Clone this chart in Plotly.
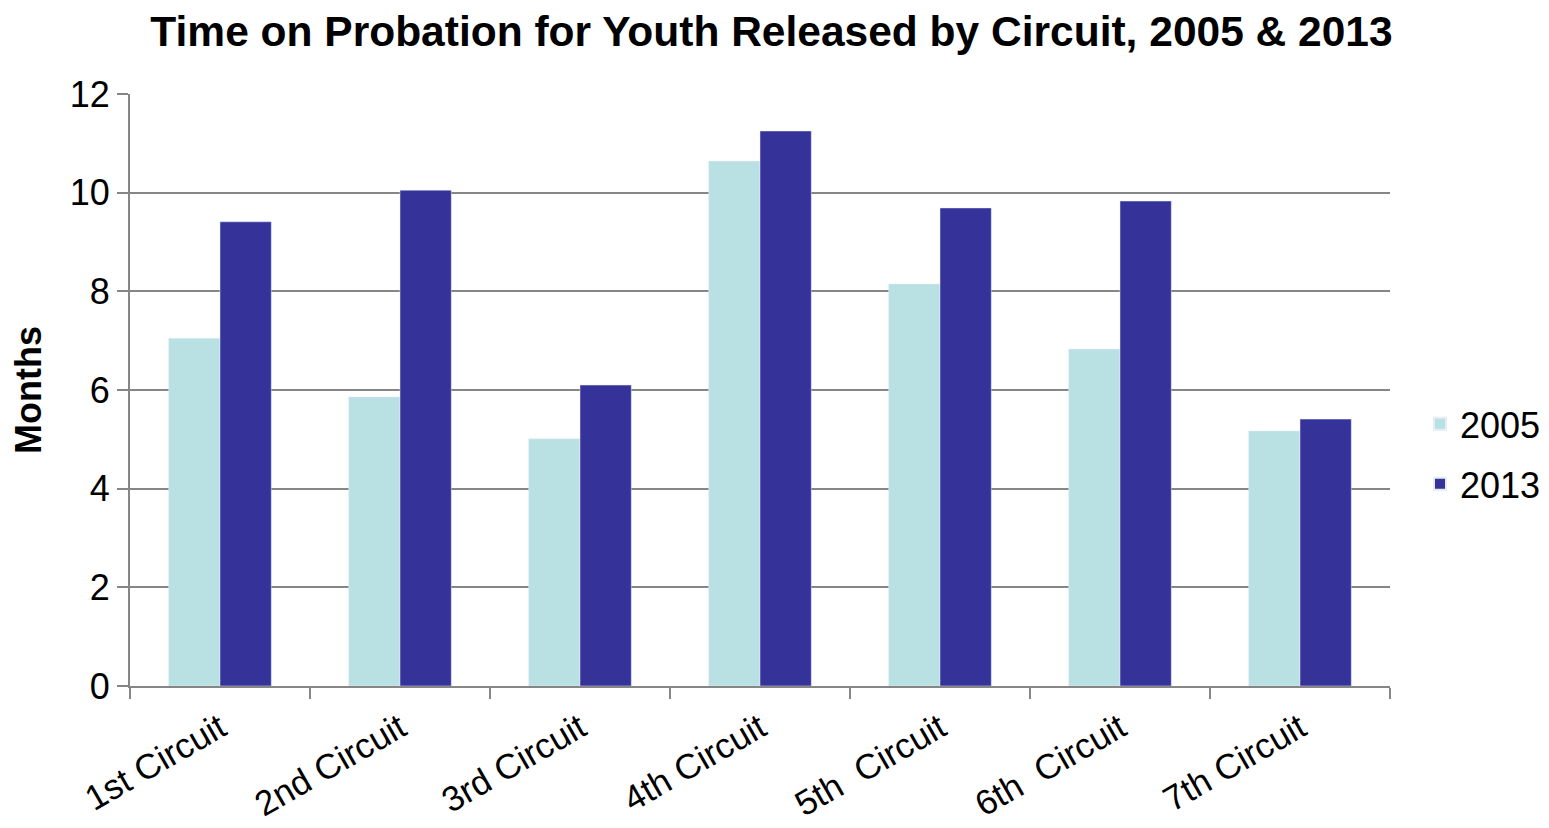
import plotly.graph_objects as go

categories = ["1st Circuit", "2nd Circuit", "3rd Circuit", "4th Circuit", "5th  Circuit", "6th  Circuit", "7th Circuit"]
values_2005 = [7.05, 5.86, 5.01, 10.64, 8.15, 6.83, 5.17]
values_2013 = [9.41, 10.05, 6.10, 11.25, 9.69, 9.83, 5.41]

W, H = 1541, 820
L, R, T, B = 122, 159, 86, 142
PW = W - L - R

fig = go.Figure()
fig.add_trace(go.Bar(name="2005", x=categories, y=values_2005, marker_color="#B9E0E3",
                     legendgroup="a"))
fig.add_trace(go.Bar(name="2013", x=categories, y=values_2013, marker_color="#353399",
                     legendgroup="b"))

fig.update_layout(
    width=W, height=H,
    margin=dict(l=L, r=R, t=T, b=B, autoexpand=False),
    paper_bgcolor="white", plot_bgcolor="white",
    font=dict(family="Liberation Sans, Arial, sans-serif", color="black"),
    title=dict(text="<b>Time on Probation for Youth Released by Circuit, 2005 &amp; 2013</b>",
               x=(771.5 - 8) / W, xanchor="center", y=1 - 23 / H, yanchor="middle",
               font=dict(size=42.5)),
    barmode="group", bargap=0.43, bargroupgap=0,
    showlegend=True,
    legend=dict(x=1 + 30 / PW, xanchor="left", y=0.392, yanchor="middle",
                font=dict(size=36), itemsizing="constant", tracegroupgap=10),
    xaxis=dict(showline=True, linecolor="#868686", linewidth=2, ticks="outside",
               tickson="boundaries", ticklen=11, tickcolor="#868686", tickwidth=2,
               tickangle=-30, tickfont=dict(size=35), showgrid=False, automargin=False,
               ticklabelstandoff=6),
    yaxis=dict(range=[0, 12], dtick=2, showline=True, linecolor="#868686", linewidth=2,
               ticks="outside", ticklen=11, tickcolor="#868686", tickwidth=2,
               gridcolor="#868686", gridwidth=1.5, tickfont=dict(size=36),
               title=dict(text="<b>Months</b>", font=dict(size=36), standoff=20),
               zeroline=False, automargin=False),
)
fig.write_html("out.html")
